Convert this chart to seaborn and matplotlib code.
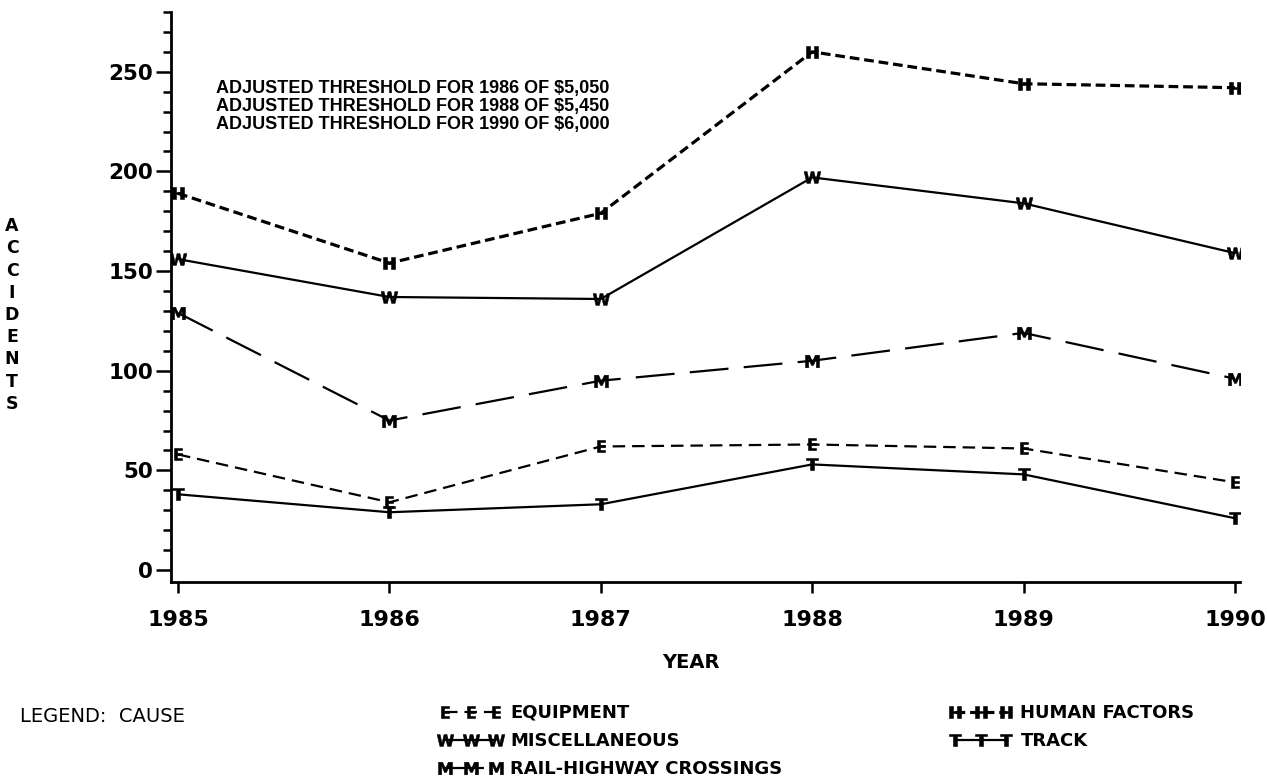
import matplotlib
matplotlib.use('Agg')
import matplotlib.pyplot as plt
import seaborn as sns
import pandas as pd
from matplotlib.ticker import MultipleLocator

# Train accidents by cause
years = [1985, 1986, 1987, 1988, 1989, 1990]
equipment = [58, 34, 62, 63, 61, 44]
miscellaneous = [156, 137, 136, 197, 184, 159]
rail_highway = [129, 75, 95, 105, 119, 96]
human_factors = [189, 154, 179, 260, 244, 242]
track = [38, 29, 33, 53, 48, 26]

threshold_notes = [
    'ADJUSTED THRESHOLD FOR 1986 OF $5,050',
    'ADJUSTED THRESHOLD FOR 1988 OF $5,450',
    'ADJUSTED THRESHOLD FOR 1990 OF $6,000',
]

sns.set_style('ticks')
plt.rcParams['font.family'] = ['DejaVu Sans']
plt.rcParams['lines.scale_dashes'] = False
for key in ['text.color', 'axes.labelcolor', 'xtick.color', 'ytick.color', 'axes.edgecolor']:
    plt.rcParams[key] = 'black'

df = pd.DataFrame({
    'Year': years * 5,
    'Accidents': equipment + miscellaneous + rail_highway + human_factors + track,
    'Cause': (['EQUIPMENT'] * 6 + ['MISCELLANEOUS'] * 6 + ['RAIL-HIGHWAY CROSSINGS'] * 6
              + ['HUMAN FACTORS'] * 6 + ['TRACK'] * 6),
})

# cause -> (marker, marker size, dash pattern, line width)
styles = {
    'EQUIPMENT': (r'$\mathbf{E}$', 9, (9, 5), 1.6),
    'MISCELLANEOUS': (r'$\mathbf{W}$', 12, None, 1.6),
    'RAIL-HIGHWAY CROSSINGS': (r'$\mathbf{M}$', 10, (28, 11), 1.6),
    'HUMAN FACTORS': (r'$\mathbf{H}$', 9, (7, 3.5), 2.3),
    'TRACK': (r'$\mathbf{T}$', 9, None, 1.6),
}

fig = plt.figure(figsize=(12.67, 7.83), dpi=100)
ax = fig.add_axes([0.135, 0.2567, 0.8437, 0.728])

handles = {}
for cause, (mk, ms, dash, lw) in styles.items():
    sub = df[df['Cause'] == cause]
    sns.lineplot(data=sub, x='Year', y='Accidents', ax=ax, color='black',
                 marker=mk, markersize=ms, markeredgewidth=0.4,
                 markeredgecolor='black', markerfacecolor='black', linewidth=lw,
                 label=cause, legend=False)
    line = ax.lines[-1]
    if dash is not None:
        line.set_dashes(dash)
    handles[cause] = line

ax.set_xlim(1984.967, 1990.024)
ax.set_ylim(-6, 280)
ax.set_xticks(years)
ax.set_xticklabels([str(y) for y in years], fontsize=16, fontweight='bold')
ax.yaxis.set_major_locator(MultipleLocator(50))
ax.yaxis.set_minor_locator(MultipleLocator(10))
for lab in ax.get_yticklabels():
    lab.set_fontsize(15.5)
    lab.set_fontweight('bold')
ax.tick_params(axis='y', which='major', length=11, width=1.8, pad=2, direction='out')
ax.tick_params(axis='y', which='minor', length=6, width=1.8, direction='out')
ax.tick_params(axis='x', which='major', length=8, width=1.8, pad=12, direction='out')
sns.despine(ax=ax)
for s in ['left', 'bottom']:
    ax.spines[s].set_linewidth(2)

ax.set_xlabel('')
ax.set_ylabel('')
fig.text(0.545, 1 - 662 / 783, 'YEAR', ha='center', va='center',
         fontsize=14, fontweight='bold')
fig.text(12 / 1267, 1 - 315 / 783, '\n'.join('ACCIDENTS'), ha='center', va='center',
         fontsize=12.5, fontweight='bold', linespacing=1.3)

ax.text(1985.18, 246, '\n'.join(threshold_notes), ha='left', va='top',
        fontsize=13, fontweight='bold', family=['Liberation Sans', 'DejaVu Sans'],
        linespacing=1.07, transform=ax.transData)

fig.text(20 / 1267, 1 - 716 / 783, 'LEGEND:  CAUSE', ha='left', va='center', fontsize=14)

col1 = ['EQUIPMENT', 'MISCELLANEOUS', 'RAIL-HIGHWAY CROSSINGS']
col2 = ['HUMAN FACTORS', 'TRACK']
for names, x0 in [(col1, 440), (col2, 950)]:
    leg = fig.legend([handles[n] for n in names], names, loc='upper left',
                     bbox_to_anchor=(x0 / 1267, 1 - 704 / 783), frameon=False,
                     numpoints=3, handlelength=3.4, handletextpad=0.5,
                     labelspacing=0.55, borderaxespad=0, borderpad=0,
                     prop={'size': 13, 'weight': 'bold'})

fig.savefig('out.png', dpi=100)
